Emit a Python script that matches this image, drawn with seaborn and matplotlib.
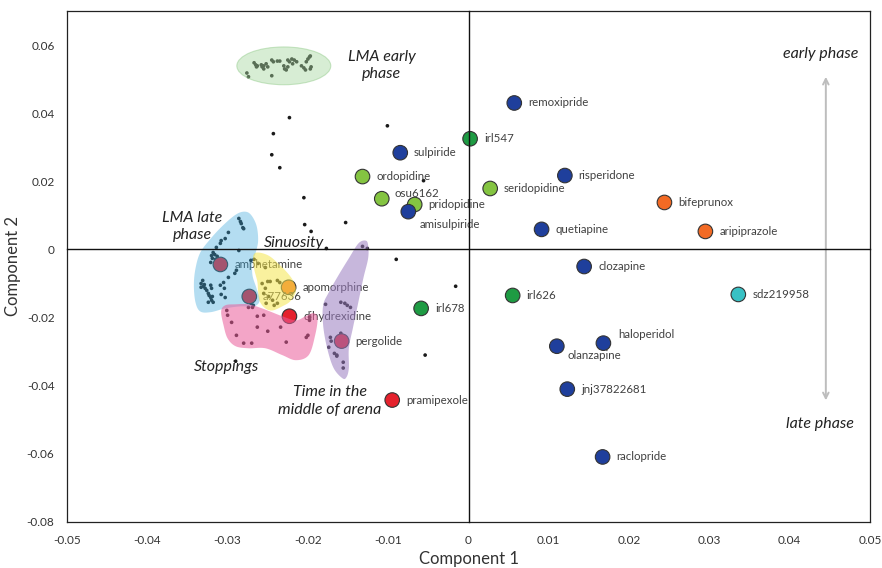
import numpy as np
import pandas as pd
import matplotlib
matplotlib.use("Agg")
import matplotlib.pyplot as plt
from matplotlib.patches import Polygon, Ellipse
import seaborn as sns

# ---------------- data ----------------
drugs = ["remoxipride", "irl547", "sulpiride", "ordopidine", "osu6162", "pridopidine",
         "amisulpiride", "seridopidine", "risperidone", "quetiapine", "bifeprunox",
         "aripiprazole", "clozapine", "irl626", "sdz219958", "haloperidol", "olanzapine",
         "jnj37822681", "raclopride", "irl678", "pramipexole", "pergolide",
         "dihydrexidine", "apomorphine", "a77636", "amphetamine"]
comp1 = [0.0057, 0.0002, -0.0085, -0.0132, -0.0108, -0.0067,
         -0.0075, 0.0027, 0.0120, 0.0091, 0.0244,
         0.0295, 0.0144, 0.0055, 0.0336, 0.0168, 0.0110,
         0.0123, 0.0167, -0.0059, -0.0095, -0.0158,
         -0.0223, -0.0224, -0.0273, -0.0309]
comp2 = [0.0430, 0.0325, 0.0284, 0.0214, 0.0149, 0.0132,
         0.0111, 0.0179, 0.0217, 0.0059, 0.0138,
         0.0053, -0.0050, -0.0135, -0.0132, -0.0275, -0.0284,
         -0.0410, -0.0609, -0.0173, -0.0442, -0.0269,
         -0.0196, -0.0111, -0.0138, -0.0044]
drug_class = ["antagonist", "stabilizer", "antagonist", "stabilizer2", "stabilizer2", "stabilizer2",
              "antagonist", "stabilizer2", "antagonist", "antagonist", "partial",
              "partial", "antagonist", "stabilizer", "serotonergic", "antagonist", "antagonist",
              "antagonist", "antagonist", "stabilizer", "agonist", "agonist",
              "agonist", "partial", "agonist", "agonist"]

# behavioural variable loadings (small dots), grouped by cluster
early_x = [-0.0276, -0.0274, -0.0267, -0.0265, -0.0264, -0.0263, -0.0258, -0.0257, -0.0255, -0.0255,
           -0.0252, -0.0250, -0.0245, -0.0243, -0.0238, -0.0235, -0.0245, -0.0230, -0.0229, -0.0227,
           -0.0225, -0.0225, -0.0223, -0.0219, -0.0220, -0.0217, -0.0214, -0.0208, -0.0205, -0.0203,
           -0.0202, -0.0200, -0.0198, -0.0197, -0.0197, -0.0196]
early_y = [0.0518, 0.0507, 0.0548, 0.0542, 0.0536, 0.0539, 0.0542, 0.0536, 0.0530, 0.0539,
           0.0545, 0.0536, 0.0556, 0.0551, 0.0553, 0.0553, 0.0510, 0.0539, 0.0530, 0.0527,
           0.0536, 0.0556, 0.0551, 0.0545, 0.0559, 0.0556, 0.0551, 0.0539, 0.0533, 0.0527,
           0.0551, 0.0559, 0.0565, 0.0568, 0.0530, 0.0536]
late_x = [-0.0286, -0.0284, -0.0283, -0.0281, -0.0280, -0.0299, -0.0303, -0.0308, -0.0309, -0.0314,
          -0.0318, -0.0320, -0.0319, -0.0321, -0.0315, -0.0286, -0.0271, -0.0289, -0.0291, -0.0299,
          -0.0305, -0.0309, -0.0304, -0.0333, -0.0333, -0.0330, -0.0328, -0.0321, -0.0320, -0.0324,
          -0.0321, -0.0320, -0.0324, -0.0318, -0.0308, -0.0303, -0.0278, -0.0274, -0.0271, -0.0268,
          -0.0331, -0.0329, -0.0326, -0.0323, -0.0319, -0.0316, -0.0313]
late_y = [0.0091, 0.0082, 0.0076, 0.0064, 0.0061, 0.0050, 0.0032, 0.0026, 0.0018, 0.0006,
          -0.0009, -0.0018, -0.0026, -0.0038, -0.0029, -0.0003, -0.0032, -0.0061, -0.0070, -0.0082,
          -0.0097, -0.0105, -0.0114, -0.0100, -0.0111, -0.0108, -0.0114, -0.0105, -0.0114, -0.0129,
          -0.0141, -0.0149, -0.0155, -0.0155, -0.0132, -0.0141, -0.0143, -0.0149, -0.0158, -0.0164,
          -0.0091, -0.0103, -0.0120, -0.0135, -0.0138, -0.0015, -0.0020]
sinu_x = [-0.0267, -0.0262, -0.0253, -0.0257, -0.0250, -0.0247, -0.0238, -0.0235, -0.0253, -0.0255,
          -0.0249, -0.0244, -0.0238, -0.0242, -0.0252]
sinu_y = [-0.0029, -0.0041, -0.0053, -0.0100, -0.0094, -0.0094, -0.0091, -0.0097, -0.0114, -0.0129,
          -0.0138, -0.0149, -0.0158, -0.0164, -0.0158]
stop_x = [-0.0301, -0.0300, -0.0295, -0.0274, -0.0269, -0.0263, -0.0255, -0.0263, -0.0250, -0.0234,
          -0.0289, -0.0280, -0.0270, -0.0227, -0.0200, -0.0202, -0.0198, -0.0198, -0.0290]
stop_y = [-0.0179, -0.0193, -0.0214, -0.0170, -0.0170, -0.0196, -0.0193, -0.0228, -0.0240, -0.0228,
          -0.0252, -0.0275, -0.0275, -0.0272, -0.0252, -0.0258, -0.0208, -0.0199, -0.0328]
middle_x = [-0.0132, -0.0126, -0.0178, -0.0159, -0.0154, -0.0151, -0.0147, -0.0159, -0.0172, -0.0174,
            -0.0167, -0.0164, -0.0156, -0.0156, -0.0171, -0.0164]
middle_y = [0.0009, 0.0003, -0.0161, -0.0155, -0.0158, -0.0164, -0.0170, -0.0246, -0.0258, -0.0287,
            -0.0305, -0.0310, -0.0331, -0.0348, -0.0269, -0.0313]
other_x = [-0.0223, -0.0243, -0.0101, -0.0245, -0.0235, -0.0205, -0.0204, -0.0196, -0.0153, -0.0177,
           -0.0056, -0.0076, -0.0090, -0.0054, -0.0016, 0.0025]
other_y = [0.0387, 0.0340, 0.0363, 0.0278, 0.0240, 0.0152, 0.0073, 0.0053, 0.0079, 0.0003,
           0.0202, 0.0097, -0.0029, -0.0310, -0.0108, 0.0179]

# hand-drawn region outlines (data coordinates)
late_hull_x = [-0.0279, -0.0271, -0.0264, -0.0262, -0.0265, -0.0269, -0.0269, -0.0264, -0.0260, -0.0267,
               -0.0284, -0.0303, -0.0321, -0.0334, -0.0340, -0.0342, -0.0340, -0.0334, -0.0321, -0.0306, -0.0290]
late_hull_y = [0.0111, 0.0102, 0.0070, 0.0026, -0.0009, -0.0038, -0.0076, -0.0114, -0.0149, -0.0167,
               -0.0167, -0.0173, -0.0184, -0.0182, -0.0155, -0.0105, -0.0056, -0.0009, 0.0032, 0.0070, 0.0102]
sinu_hull_x = [-0.0268, -0.0262, -0.0249, -0.0237, -0.0225, -0.0218, -0.0215, -0.0222, -0.0232, -0.0244,
               -0.0253, -0.0260, -0.0262, -0.0263, -0.0267]
sinu_hull_y = [-0.0018, -0.0009, -0.0018, -0.0041, -0.0070, -0.0094, -0.0123, -0.0152, -0.0167, -0.0179,
               -0.0173, -0.0152, -0.0123, -0.0094, -0.0056]
stop_hull_x = [-0.0308, -0.0303, -0.0290, -0.0274, -0.0257, -0.0232, -0.0215, -0.0203, -0.0193, -0.0188,
               -0.0191, -0.0199, -0.0215, -0.0232, -0.0253, -0.0274, -0.0290, -0.0300, -0.0305]
stop_hull_y = [-0.0182, -0.0164, -0.0161, -0.0161, -0.0173, -0.0196, -0.0208, -0.0196, -0.0187, -0.0202,
               -0.0252, -0.0310, -0.0325, -0.0310, -0.0290, -0.0290, -0.0284, -0.0261, -0.0223]
middle_hull_x = [-0.0128, -0.0125, -0.0125, -0.0131, -0.0138, -0.0144, -0.0149, -0.0149, -0.0152, -0.0157,
                 -0.0168, -0.0176, -0.0181, -0.0181, -0.0174, -0.0162, -0.0149, -0.0137]
middle_hull_y = [0.0026, 0.0012, -0.0026, -0.0085, -0.0164, -0.0231, -0.0290, -0.0348, -0.0375, -0.0378,
                 -0.0348, -0.0290, -0.0223, -0.0164, -0.0126, -0.0076, -0.0026, 0.0018]
early_center = (-0.0230, 0.0539)
early_size = (0.0117, 0.0111)

xticks = [-0.05, -0.04, -0.03, -0.02, -0.01, 0, 0.01, 0.02, 0.03, 0.04, 0.05]
xtick_labels = ["-0.05", "-0.04", "-0.03", "-0.02", "-0.01", "0", "0.01", "0.02", "0.03", "0.04", "0.05"]
yticks = [-0.08, -0.06, -0.04, -0.02, 0, 0.02, 0.04, 0.06]
ytick_labels = ["-0.08", "-0.06", "-0.04", "-0.02", "0", "0.02", "0.04", "0.06"]

palette = {"antagonist": "#1f3f9c", "stabilizer": "#1e9b43", "stabilizer2": "#84c441",
           "partial": "#f26a24", "serotonergic": "#38c1c4", "agonist": "#e5222d"}

# ---------------- plot ----------------
sns.set_style("white")
plt.rcParams["font.family"] = ["Lato", "DejaVu Sans"]

fig = plt.figure(figsize=(8.82, 5.68), dpi=100)
pos = [67 / 882, 1 - 522 / 568, (870 - 67) / 882, (522 - 11) / 568]
ax = fig.add_axes(pos)
ax.set_xlim(-0.05, 0.05)
ax.set_ylim(-0.08, 0.07)

# behaviour dots
dots = pd.DataFrame({
    "x": early_x + late_x + sinu_x + stop_x + middle_x + other_x,
    "y": early_y + late_y + sinu_y + stop_y + middle_y + other_y,
})
sns.scatterplot(data=dots, x="x", y="y", ax=ax, s=7, color="#1a1a1a", edgecolor="none",
                legend=False, zorder=2)

# drug points
df = pd.DataFrame({"drug": drugs, "c1": comp1, "c2": comp2, "cls": drug_class})
sns.scatterplot(data=df, x="c1", y="c2", hue="cls", palette=palette, ax=ax, s=110,
                edgecolor="#333333", linewidth=0.8, legend=False, zorder=2)

offsets = {"osu6162": (9, 4), "amisulpiride": (8, -9), "haloperidol": (11, 6),
           "olanzapine": (8, -7)}
for d, x, y in zip(drugs, comp1, comp2):
    dx, dy = offsets.get(d, (10, 0))
    ax.annotate(d, (x, y), xytext=(dx, dy), textcoords="offset points", fontsize=8.3,
                color="#404040", va="center", ha="left", zorder=2)


def smooth_closed(xs, ys, n=16):
    P = np.column_stack([xs, ys])
    m = len(P)
    t = np.linspace(0, 1, n, endpoint=False)[:, None]
    out = []
    for i in range(m):
        p0, p1, p2, p3 = P[i - 1], P[i], P[(i + 1) % m], P[(i + 2) % m]
        out.append(0.5 * ((2 * p1) + (-p0 + p2) * t + (2 * p0 - 5 * p1 + 4 * p2 - p3) * t ** 2
                          + (-p0 + 3 * p1 - 3 * p2 + p3) * t ** 3))
    return np.vstack(out)


regions = [
    (late_hull_x, late_hull_y, "#3aa8dc", 0.38),
    (sinu_hull_x, sinu_hull_y, "#f5e64f", 0.55),
    (stop_hull_x, stop_hull_y, "#ea5c9a", 0.55),
    (middle_hull_x, middle_hull_y, "#9a7cc0", 0.55),
]
for hx, hy, col, a in regions:
    pts = smooth_closed(hx, hy)
    ax.add_patch(Polygon(pts, closed=True, facecolor=col, alpha=a, edgecolor="none", zorder=3))
ax.add_patch(Ellipse(early_center, early_size[0], early_size[1], facecolor="#a8d8a0", alpha=0.45,
                     edgecolor="#8cc884", lw=0.8, zorder=3))

# region annotations
ann = dict(fontsize=11.5, style="italic", color="#222222", ha="center", va="center", zorder=5,
           linespacing=1.3)
ax.text(-0.0108, 0.0540, "LMA early\nphase", **ann)
ax.text(-0.0344, 0.0067, "LMA late\nphase", **ann)
ax.text(-0.0217, 0.0020, "Sinuosity", **ann)
ax.text(-0.0301, -0.0346, "Stoppings", **ann)
ax.text(-0.0173, -0.0445, "Time in the\nmiddle of arena", **ann)
ax.text(0.0438, 0.0574, "early phase", **ann)
ax.text(0.0438, -0.0512, "late phase", **ann)
ax.annotate("", xy=(0.0445, 0.0515), xytext=(0.0445, -0.0451),
            arrowprops=dict(arrowstyle="<->", color="#bdbdbd", lw=1.4, mutation_scale=10), zorder=1)

# outer frame and tick labels
ax.set_xticks(xticks, xtick_labels)
ax.set_yticks(yticks, ytick_labels)
ax.tick_params(axis="both", length=0, labelsize=8.5, colors="#333333")
ax.tick_params(axis="x", pad=9)
ax.tick_params(axis="y", pad=9)
for s in ax.spines.values():
    s.set_visible(True)
    s.set_color("#222222")
    s.set_linewidth(0.9)
ax.set_xlabel("Component 1", fontsize=12, color="#333333", labelpad=4)
ax.set_ylabel("Component 2", fontsize=12, color="#333333", labelpad=4)
ax.grid(False)

# zero-crossing axes with tick marks (independent axes, same limits)
ax0 = fig.add_axes(pos)
ax0.set_xlim(-0.05, 0.05)
ax0.set_ylim(-0.08, 0.07)
ax0.patch.set_visible(False)
ax0.spines["left"].set_position(("data", 0))
ax0.spines["bottom"].set_position(("data", 0))
ax0.spines["top"].set_visible(False)
ax0.spines["right"].set_visible(False)
for s in ("left", "bottom"):
    ax0.spines[s].set_color("#111111")
    ax0.spines[s].set_linewidth(1.0)
ax0.set_xticks(xticks[1:-1])
ax0.set_yticks([-0.06, -0.04, -0.02, 0.02, 0.04, 0.06])
ax0.tick_params(axis="both", direction="out", length=3, width=0.8, color="#555555",
                labelbottom=False, labelleft=False)
ax0.grid(False)

fig.savefig("out.png", dpi=100)
